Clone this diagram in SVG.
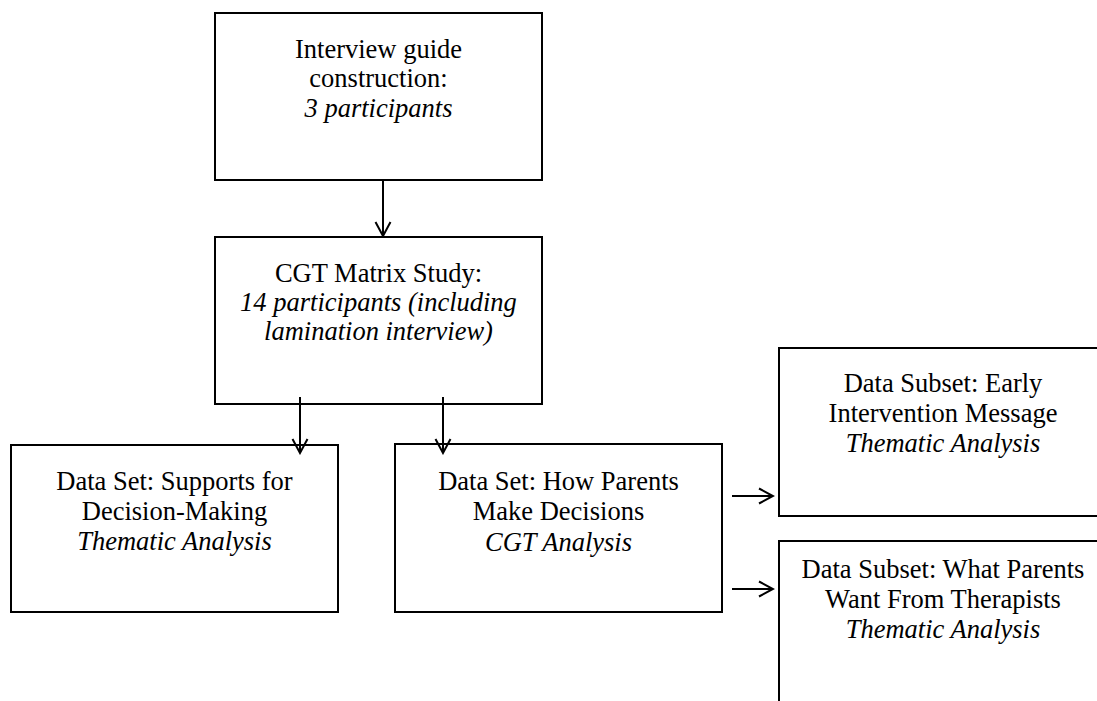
<svg xmlns="http://www.w3.org/2000/svg" width="1097" height="701" viewBox="0 0 1097 701">
  <style>
    .box { fill: #ffffff; stroke: #000000; stroke-width: 2; }
    .t { font-family: "Liberation Serif", "Times New Roman", serif; font-size: 26.5px; fill: #000000; text-anchor: middle; }
    .i { font-style: italic; }
    .conn { stroke: #000000; stroke-width: 2; fill: none; }
  </style>
  <defs>
    <marker id="arrow" markerUnits="userSpaceOnUse" viewBox="0 0 18 18" refX="16" refY="9" markerWidth="18" markerHeight="18" orient="auto">
      <path d="M2,1.5 L16,9 L2,16.5" fill="none" stroke="#000000" stroke-width="2"/>
    </marker>
  </defs>

  <g id="node-interview-guide">
    <rect class="box" x="215" y="13" width="327" height="167"/>
    <text class="t" x="378.5" y="58">Interview guide</text>
    <text class="t" x="378.5" y="87">construction:</text>
    <text class="t i" x="378.5" y="117">3 participants</text>
  </g>

  <g id="node-cgt-matrix">
    <rect class="box" x="215" y="237" width="327" height="167"/>
    <text class="t" x="378.5" y="282">CGT Matrix Study:</text>
    <text class="t i" x="378.5" y="311">14 participants (including</text>
    <text class="t i" x="378.5" y="340">lamination interview)</text>
  </g>

  <g id="node-supports">
    <rect class="box" x="11" y="445" width="327" height="167"/>
    <text class="t" x="174.5" y="490">Data Set: Supports for</text>
    <text class="t" x="174.5" y="520">Decision-Making</text>
    <text class="t i" x="174.5" y="550">Thematic Analysis</text>
  </g>

  <g id="node-how-parents">
    <rect class="box" x="395" y="444" width="327" height="168"/>
    <text class="t" x="558.5" y="490">Data Set: How Parents</text>
    <text class="t" x="558.5" y="520">Make Decisions</text>
    <text class="t i" x="558.5" y="551">CGT Analysis</text>
  </g>

  <g id="node-early-intervention">
    <rect class="box" x="779" y="348" width="328" height="168"/>
    <text class="t" x="943" y="392">Data Subset: Early</text>
    <text class="t" x="943" y="422">Intervention Message</text>
    <text class="t i" x="943" y="452">Thematic Analysis</text>
  </g>

  <g id="node-what-parents-want">
    <rect class="box" x="779" y="541" width="328" height="180"/>
    <text class="t" x="943" y="578">Data Subset: What Parents</text>
    <text class="t" x="943" y="608">Want From Therapists</text>
    <text class="t i" x="943" y="638">Thematic Analysis</text>
  </g>

  <g id="connectors">
    <line class="conn" x1="383" y1="180" x2="383" y2="236" marker-end="url(#arrow)"/>
    <line class="conn" x1="300" y1="397" x2="300" y2="453" marker-end="url(#arrow)"/>
    <line class="conn" x1="443" y1="397" x2="443" y2="453" marker-end="url(#arrow)"/>
    <line class="conn" x1="732" y1="496" x2="773" y2="496" marker-end="url(#arrow)"/>
    <line class="conn" x1="732" y1="589" x2="773" y2="589" marker-end="url(#arrow)"/>
  </g>
</svg>
